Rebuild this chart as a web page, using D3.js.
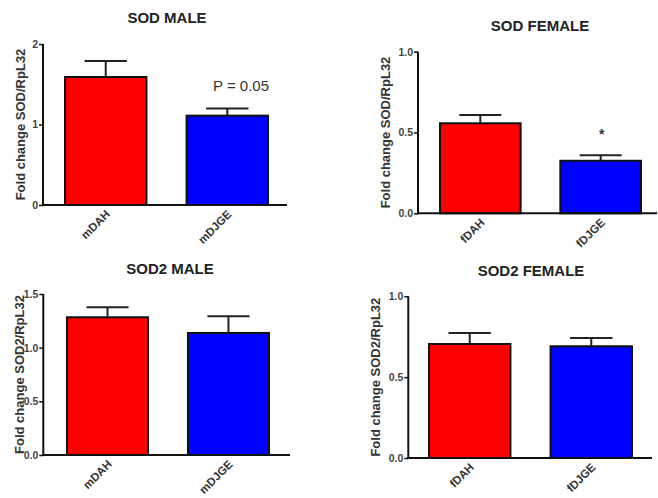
<!DOCTYPE html>
<html>
<head>
<meta charset="utf-8">
<script src="https://cdn.jsdelivr.net/npm/d3@7"></script>
<style>
  html, body { margin: 0; padding: 0; background: #fff; }
  svg { display: block; font-family: "Liberation Sans", Arial, sans-serif; }
</style>
</head>
<body>
<svg id="chart" width="658" height="498"></svg>
<script>
// ---------- data ----------
const titles = ["SOD MALE", "SOD FEMALE", "SOD2 MALE", "SOD2 FEMALE"];
const maleCategories = ["mDAH", "mDJGE"];
const femaleCategories = ["fDAH", "fDJGE"];
const yAxisTitles = ["Fold change SOD/RpL32", "Fold change SOD/RpL32", "Fold change SOD2/RpL32", "Fold change SOD2/RpL32"];
const sodMaleMeans = [1.59, 1.11];
const sodMaleErrors = [0.20, 0.09];
const sodFemaleMeans = [0.557, 0.325];
const sodFemaleErrors = [0.051, 0.034];
const sod2MaleMeans = [1.283, 1.137];
const sod2MaleErrors = [0.093, 0.156];
const sod2FemaleMeans = [0.705, 0.691];
const sod2FemaleErrors = [0.068, 0.051];
const sodMaleTicks = [0, 1, 2];
const sodFemaleTicks = [0, 0.5, 1.0];
const sod2MaleTicks = [0, 0.5, 1.0, 1.5];
const sod2FemaleTicks = [0, 0.5, 1.0];
const sodMaleTickLabels = ["0", "1", "2"];
const sodFemaleTickLabels = ["0.0", "0.5", "1.0"];
const sod2MaleTickLabels = ["0.0", "0.5", "1.0", "1.5"];
const sod2FemaleTickLabels = ["0.0", "0.5", "1.0"];
const annotations = ["P = 0.05", "*", "", ""];
const barColors = ["#ff0000", "#0000ff"];

// ---------- layout (positions only) ----------
const panels = [
  { cats: maleCategories, means: sodMaleMeans, errs: sodMaleErrors, ticks: sodMaleTicks, tickLabels: sodMaleTickLabels, yMax: 2,
    axisX: 43, y0: 205, yTop: 44, xEnd: 287, barRange: [65, 268], titleX: 167, titleY: 23, labelX: 25, annot: { x: 241, y: 91, size: 15, bold: false } },
  { cats: femaleCategories, means: sodFemaleMeans, errs: sodFemaleErrors, ticks: sodFemaleTicks, tickLabels: sodFemaleTickLabels, yMax: 1,
    axisX: 418, y0: 213.3, yTop: 51.7, xEnd: 657, barRange: [440, 641], titleX: 540, titleY: 31, labelX: 390, annot: { x: 601.7, y: 139, size: 14, bold: true } },
  { cats: maleCategories, means: sod2MaleMeans, errs: sod2MaleErrors, ticks: sod2MaleTicks, tickLabels: sod2MaleTickLabels, yMax: 1.5,
    axisX: 43.3, y0: 455, yTop: 294, xEnd: 290, barRange: [67, 269], titleX: 170, titleY: 274, labelX: 24, annot: null },
  { cats: femaleCategories, means: sod2FemaleMeans, errs: sod2FemaleErrors, ticks: sod2FemaleTicks, tickLabels: sod2FemaleTickLabels, yMax: 1,
    axisX: 408.3, y0: 458, yTop: 296.3, xEnd: 652, barRange: [429, 632], titleX: 531, titleY: 276, labelX: 380, annot: null }
];

const svg = d3.select("#chart");

panels.forEach((p, i) => {
  const g = svg.append("g");
  const y = d3.scaleLinear().domain([0, p.yMax]).range([p.y0, p.yTop]);
  const x = d3.scaleBand().domain(p.cats).range(p.barRange).paddingInner(0.33).paddingOuter(0);
  const bw = x.bandwidth();

  // title
  g.append("text")
    .attr("x", p.titleX).attr("y", p.titleY)
    .attr("text-anchor", "middle")
    .attr("font-size", 15).attr("font-weight", "bold").attr("fill", "#222")
    .text(titles[i]);

  // y axis title
  g.append("text")
    .attr("transform", `translate(${p.labelX},${(p.y0 + p.yTop) / 2}) rotate(-90)`)
    .attr("text-anchor", "middle")
    .attr("font-size", 13).attr("font-weight", "bold").attr("fill", "#333")
    .text(yAxisTitles[i]);

  const data = p.cats.map((c, k) => ({ c, m: p.means[k], e: p.errs[k], color: barColors[k] }));

  // error bars (upper only)
  data.forEach(d => {
    const cx = x(d.c) + bw / 2;
    g.append("line")
      .attr("x1", cx).attr("x2", cx)
      .attr("y1", y(d.m)).attr("y2", y(d.m + d.e))
      .attr("stroke", "#222").attr("stroke-width", 2);
    g.append("line")
      .attr("x1", cx - bw * 0.26).attr("x2", cx + bw * 0.26)
      .attr("y1", y(d.m + d.e)).attr("y2", y(d.m + d.e))
      .attr("stroke", "#222").attr("stroke-width", 2);
  });

  // bars
  g.selectAll("rect.bar").data(data).enter().append("rect")
    .attr("class", "bar")
    .attr("x", d => x(d.c))
    .attr("y", d => y(d.m))
    .attr("width", bw)
    .attr("height", d => y(0) - y(d.m))
    .attr("fill", d => d.color)
    .attr("stroke", "#111").attr("stroke-width", 2);

  // y axis
  const yAxis = d3.axisLeft(y)
    .tickValues(p.ticks)
    .tickFormat((v, k) => p.tickLabels[k])
    .tickSize(4).tickPadding(1).tickSizeOuter(0);
  const ya = g.append("g").attr("transform", `translate(${p.axisX},0)`).call(yAxis);
  ya.select(".domain").attr("stroke", "#111").attr("stroke-width", 2)
    .attr("d", `M0,${p.y0 + 1}V${p.yTop}`);
  ya.selectAll(".tick line").attr("stroke", "#111").attr("stroke-width", 1.5);
  ya.selectAll(".tick text")
    .attr("font-size", 10.5).attr("font-weight", "bold").attr("fill", "#444")
    .attr("font-family", "Liberation Sans, Arial, sans-serif");

  // x axis line
  g.append("line")
    .attr("x1", p.axisX - 1).attr("x2", p.xEnd)
    .attr("y1", p.y0).attr("y2", p.y0)
    .attr("stroke", "#111").attr("stroke-width", 2);

  // x labels
  p.cats.forEach(c => {
    const cx = x(c) + bw / 2;
    g.append("text")
      .attr("transform", `translate(${cx + 5},${p.y0 + 10}) rotate(-45)`)
      .attr("text-anchor", "end")
      .attr("font-size", 11.5).attr("font-weight", "bold").attr("fill", "#333")
      .text(c);
  });

  // annotation
  if (p.annot && annotations[i]) {
    g.append("text")
      .attr("x", p.annot.x).attr("y", p.annot.y)
      .attr("text-anchor", "middle")
      .attr("font-size", p.annot.size)
      .attr("font-weight", p.annot.bold ? "bold" : "normal")
      .attr("fill", "#333")
      .text(annotations[i]);
  }
});
</script>
</body>
</html>
